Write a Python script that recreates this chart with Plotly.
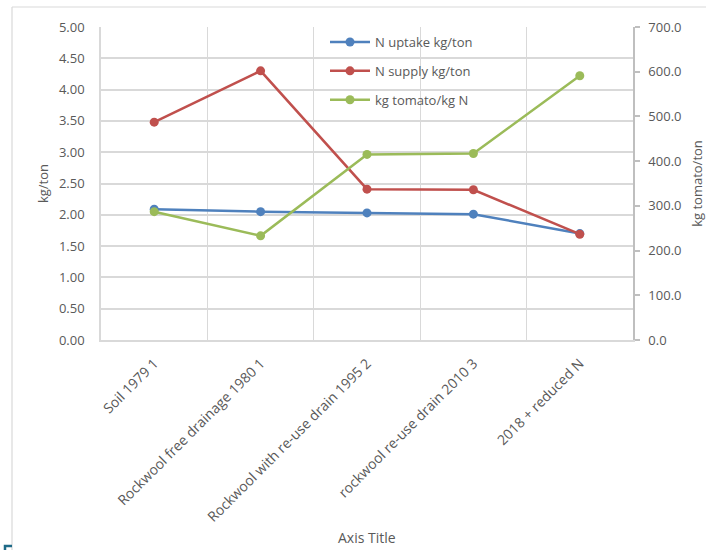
import plotly.graph_objects as go

# Growing systems compared
categories = [
    "Soil 1979 1",
    "Rockwool free drainage 1980 1",
    "Rockwool with re-use drain 1995 2",
    "rockwool re-use drain 2010 3",
    "2018 + reduced N",
]

# kg per ton of tomatoes (left axis)
n_uptake = [2.09, 2.05, 2.03, 2.01, 1.70]
n_supply = [3.48, 4.30, 2.41, 2.40, 1.69]

# kg tomato per kg N (right axis)
tomato_per_n = [287.0, 233.0, 415.0, 417.0, 591.0]

left_ticks = [0, 0.5, 1, 1.5, 2, 2.5, 3, 3.5, 4, 4.5, 5]
right_ticks = [0, 100, 200, 300, 400, 500, 600, 700]

FONT = "Open Sans"
GREY = "#595959"
GRID = "#d9d9d9"

W, H = 706, 550
L, R, T, B = 101, 633, 27, 340

fig = go.Figure()
series = [
    ("N uptake kg/ton", n_uptake, "#4F81BD", "y"),
    ("N supply kg/ton", n_supply, "#C0504D", "y"),
    ("kg tomato/kg N", tomato_per_n, "#9BBB59", "y2"),
]
for name, vals, color, axis in series:
    fig.add_trace(go.Scatter(
        x=categories, y=vals, name=name, mode="lines+markers",
        line=dict(color=color, width=2.5), marker=dict(size=9, color=color),
        yaxis=axis, legendgroup=name,
    ))

pw, ph = R - L, B - T


def px_x(px):
    return (px - L) / pw


def px_y(py):
    return (B - py) / ph


shapes = [
    # chart frame (top and left edges)
    dict(type="line", xref="paper", yref="paper", x0=px_x(12), x1=px_x(706),
         y0=px_y(7), y1=px_y(7), line=dict(color=GRID, width=1.2)),
    dict(type="line", xref="paper", yref="paper", x0=px_x(12), x1=px_x(12),
         y0=px_y(7), y1=px_y(552), line=dict(color=GRID, width=1.2)),
    # small corner handle
    dict(type="path", xref="paper", yref="paper",
         path=f"M {px_x(5)} {px_y(551)} L {px_x(5)} {px_y(546)} L {px_x(12)} {px_y(546)}",
         line=dict(color="#1e6a87", width=2.5)),
]

# horizontal axis title, placed below the slanted category labels
annotations = [
    dict(text="Axis Title", xref="paper", yref="paper", x=0.5, y=px_y(537),
         xanchor="center", yanchor="middle", showarrow=False,
         font=dict(family=FONT, size=14, color=GREY)),
]

fig.update_layout(
    width=W, height=H,
    margin=dict(l=L, r=W - R, t=T, b=H - B),
    paper_bgcolor="white", plot_bgcolor="white",
    font=dict(family=FONT, size=13, color=GREY),
    showlegend=True,
    legend=dict(
        x=px_x(325), y=px_y(27), xanchor="left", yanchor="top",
        bgcolor="rgba(0,0,0,0)", font=dict(family=FONT, size=13, color=GREY),
        tracegroupgap=9, itemwidth=40,
    ),
    xaxis=dict(
        type="category", tickson="boundaries", showgrid=True, gridcolor=GRID,
        gridwidth=1, showline=True, linecolor=GRID, linewidth=1.5,
        ticks="", tickangle=-45, ticklabelstandoff=8,
        tickfont=dict(family=FONT, size=14, color=GREY),
        range=[-0.5, 4.5], automargin=False,
    ),
    yaxis=dict(
        range=[0, 5], tickvals=left_ticks, tickformat=".2f",
        showgrid=True, gridcolor=GRID, gridwidth=1.5, zeroline=False,
        showline=True, linecolor=GRID, linewidth=1.5, ticks="",
        ticklabelstandoff=12,
        tickfont=dict(family=FONT, size=13, color=GREY),
        title=dict(text="kg/ton", font=dict(family=FONT, size=13, color=GREY),
                   standoff=7),
        automargin=False,
    ),
    yaxis2=dict(
        range=[0, 700], tickvals=right_ticks, tickformat=".1f",
        overlaying="y", side="right", showgrid=False, zeroline=False,
        showline=True, linecolor="#bfbfbf", linewidth=1.5,
        ticks="outside", ticklen=5, tickcolor="#bfbfbf", tickwidth=1.5,
        ticklabelstandoff=6,
        tickfont=dict(family=FONT, size=13, color=GREY),
        title=dict(text="kg tomato/ton", font=dict(family=FONT, size=13, color=GREY),
                   standoff=14),
        automargin=False,
    ),
    shapes=shapes,
    annotations=annotations,
)

fig.write_html("out.html")
